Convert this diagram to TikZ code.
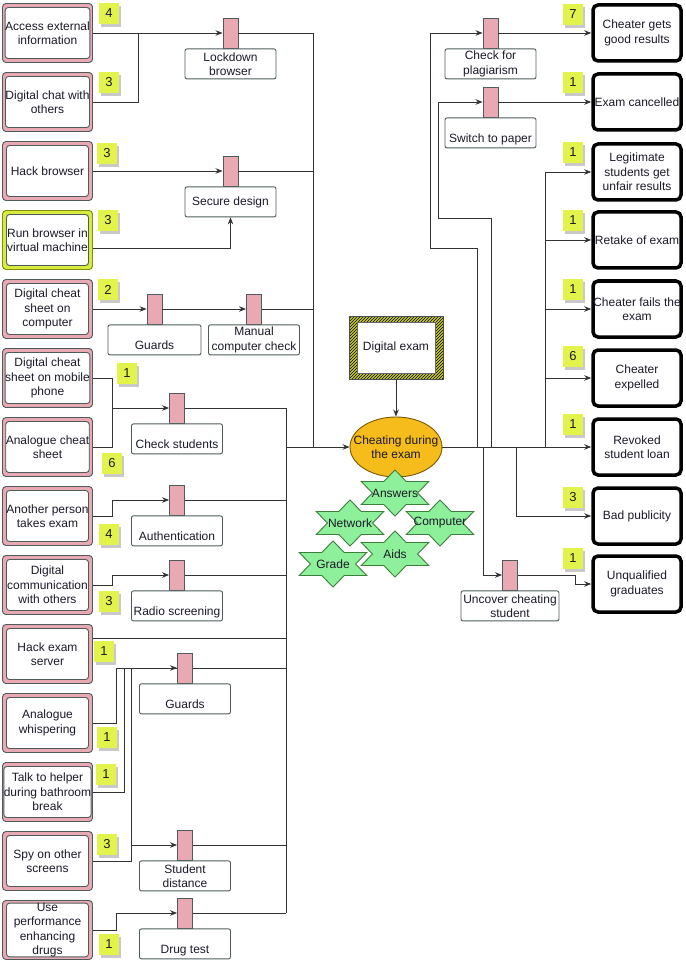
\documentclass[tikz,border=0pt]{standalone}
\usepackage{fontspec}
\setmainfont{Liberation Sans}
\usetikzlibrary{arrows.meta,shapes.geometric,patterns,shadows,calc}
\definecolor{pinkf}{HTML}{E9A9B2}
\definecolor{grayl}{HTML}{4F5B5B}
\definecolor{conn}{HTML}{333333}
\definecolor{badgef}{HTML}{E2F44C}
\definecolor{limef}{HTML}{D7EC3A}
\definecolor{limel}{HTML}{7F8F10}
\definecolor{ellf}{HTML}{F5BC1C}
\definecolor{elll}{HTML}{7A5A00}
\definecolor{starf}{HTML}{8FF09B}
\definecolor{starl}{HTML}{3B7F3B}
\definecolor{txt}{HTML}{1A1A2A}
\definecolor{hatchf}{HTML}{C8CC20}
\tikzset{
  base/.style={font=\fontsize{12}{14.3}\selectfont, text=txt, align=center, inner sep=0pt},
  tout/.style={rectangle, rounded corners=3.5pt, fill=pinkf, draw=grayl, line width=0.9pt, minimum width=90pt, minimum height=59pt, inner sep=0pt},
  tvm/.style={tout, fill=limef, draw=limel},
  tin/.style={base, rectangle, rounded corners=3pt, fill=white, draw=grayl, line width=0.9pt, minimum width=82pt, minimum height=51pt},
  pinkr/.style={rectangle, fill=pinkf, draw=grayl, line width=0.9pt, minimum width=15pt, minimum height=30pt, inner sep=0pt},
  clabel/.style={base, rectangle, rounded corners=2pt, fill=white, draw=grayl, line width=0.9pt, minimum width=91pt, minimum height=30pt},
  lowtext/.style={text height=20pt, text depth=0pt},
  outc/.style={base, rectangle, rounded corners=5pt, fill=white, draw=black, line width=3.5pt, minimum width=88pt, minimum height=56pt},
  badge/.style={base, rectangle, fill=badgef, minimum width=20pt, minimum height=21pt, font=\fontsize{13}{15}\selectfont,
    drop shadow={shadow xshift=2pt, shadow yshift=-3pt, opacity=0.35, fill=black!60}},
  hexst/.style={fill=starf, draw=starl, line width=0.9pt, line join=miter},
  conn/.style={draw=conn, line width=0.9pt},
  arr/.style={conn, -{Stealth[length=7pt,width=5.5pt]}},
}
\newcommand\threat[4][tout]{\node[#1] (#2) at (47.5,#3) {};\node[tin] (#2i) at (#2.center) {#4};}
\newcommand\ctrl[5][]{\node[pinkr] (#2) at (#3,#4) {};\node[clabel,#1,anchor=north] (#2l) at (#2.south) {#5};}
\newcommand\hexstar[3]{%
  \draw[hexst] (#2) +(90:39 and 23) -- +(60:22.5 and 13.3) -- +(30:39 and 23) -- +(0:22.5 and 13.3)
   -- +(-30:39 and 23) -- +(-60:22.5 and 13.3) -- +(-90:39 and 23) -- +(-120:22.5 and 13.3)
   -- +(-150:39 and 23) -- +(180:22.5 and 13.3) -- +(150:39 and 23) -- +(120:22.5 and 13.3) -- cycle;
  \node[base] (#1) at (#2) {#3};}
\begin{document}
\begin{tikzpicture}[x=1pt,y=-1pt]
\useasboundingbox (0,0) rectangle (685,965);
\fill[white] (0,0) rectangle (685,965);

% threats
\threat{t1}{33}{Access external\\information}
\threat{t2}{102}{Digital chat with\\others}
\threat{t3}{171}{Hack browser}
\threat[tvm]{t4}{240}{Run browser in\\virtual machine}
\threat{t5}{309}{Digital cheat\\sheet on\\computer}
\threat{t6}{378}{Digital cheat\\sheet on mobile\\phone}
\threat{t7}{447}{Analogue cheat\\sheet}
\threat{t8}{516}{Another person\\takes exam}
\threat{t9}{585}{Digital\\communication\\with others}
\threat{t10}{654}{Hack exam\\server}
\threat{t11}{723}{Analogue\\whispering}
\threat{t12}{792}{Talk to helper\\during bathroom\\break}
\threat{t13}{861}{Spy on other\\screens}
\threat{t14}{930}{Use\\performance\\enhancing\\drugs}

% controls
\ctrl{lock}{230.5}{33}{Lockdown\\browser}
\ctrl{sec}{230.5}{171}{Secure design}
\ctrl[lowtext,minimum width=93pt]{gd1}{154.5}{309}{Guards}
\ctrl{man}{254}{309}{Manual\\computer check}
\ctrl[lowtext]{cs}{177}{408}{Check students}
\ctrl[lowtext]{au}{177}{500}{Authentication}
\ctrl[lowtext]{rs}{177}{575}{Radio screening}
\ctrl[lowtext]{gd2}{185}{668}{Guards}
\ctrl{sd}{185}{845}{Student\\distance}
\ctrl[lowtext]{dt}{185}{913}{Drug test}
\ctrl{pl}{490.5}{33}{Check for\\plagiarism}
\ctrl[lowtext]{sp}{490.5}{102}{Switch to paper}
\ctrl[minimum width=98pt]{un}{510}{575}{Uncover cheating\\student}

% outcomes
\node[outc] (r1) at (637,33) {Cheater gets\\good results};
\node[outc] (r2) at (637,102) {Exam cancelled};
\node[outc] (r3) at (637,172) {Legitimate\\students get\\unfair results};
\node[outc] (r4) at (637,240) {Retake of exam};
\node[outc] (r5) at (637,309) {Cheater fails the\\exam};
\node[outc] (r6) at (637,378) {Cheater\\expelled};
\node[outc] (r7) at (637,447) {Revoked\\student loan};
\node[outc] (r8) at (637,516) {Bad publicity};
\node[outc] (r9) at (637,584) {Unqualified\\graduates};

% digital exam and central event
\node[rectangle, minimum width=94pt, minimum height=63pt, preaction={fill=hatchf}, pattern=north east lines, draw=black!70, line width=0.6pt] (dex) at (396,347.5) {};
\node[base, rectangle, fill=white, draw=black!60, line width=0.5pt, minimum width=78pt, minimum height=51pt] (dexi) at (dex.center) {Digital exam};
\node[ellipse, fill=ellf, draw=elll, line width=0.9pt, minimum width=92pt, minimum height=60pt, inner sep=0pt] (cheat) at (396,447) {};
\node[base] (cheatt) at (cheat.center) {Cheating during\\the exam};

% stars
\hexstar{sAns}{395,493}{Answers}
\hexstar{sNet}{350,523}{Network}
\hexstar{sCom}{440,523}{Computer}
\hexstar{sAid}{395,554}{Aids}
\hexstar{sGra}{333,564}{Grade}

% badges left
\node[badge] (b1) at (109,13.5) {4};
\node[badge] (b2) at (109,82.5) {3};
\node[badge] (b3) at (107,153.5) {3};
\node[badge] (b4) at (108,220.5) {3};
\node[badge] (b5) at (108,289.5) {2};
\node[badge] (b6) at (127,373.5) {1};
\node[badge] (b7) at (112,463.5) {6};
\node[badge] (b8) at (109,534.5) {4};
\node[badge] (b9) at (109,601.5) {3};
\node[badge] (b10) at (104,651.5) {1};
\node[badge] (b11) at (107,737.5) {1};
\node[badge] (b12) at (106,774.5) {1};
\node[badge] (b13) at (107,844.5) {3};
\node[badge] (b14) at (109,944.5) {1};
% badges right
\node[badge] (c1) at (573,14.5) {7};
\node[badge] (c2) at (573,82.5) {1};
\node[badge] (c3) at (573,152.5) {1};
\node[badge] (c4) at (573,220.5) {1};
\node[badge] (c5) at (573,289.5) {1};
\node[badge] (c6) at (573,356.5) {6};
\node[badge] (c7) at (573,424.5) {1};
\node[badge] (c8) at (573,497.5) {3};
\node[badge] (c9) at (573,558.5) {1};

% connectors left
\coordinate (j1) at (138,33);
\draw[arr] (t1.east) -- (lock.west);
\draw[conn] (t2.east) -| (j1);
\draw[arr] (t3.east) -- (sec.west);
\draw[arr] ([yshift=-8pt]t4.east) -| (secl.south);
\draw[arr] (t5.east) -- (gd1.west);
\draw[arr] (gd1.east) -- (man.west);
\coordinate (busA) at (313,447);
\draw[conn] (lock.east) -| (busA);
\draw[conn] (sec.east) -- (sec.east -| busA);
\draw[conn] (man.east) -- (man.east -| busA);
\coordinate (j2) at (112,408);
\draw[conn] (t6.east) -| (j2);
\draw[conn] (t7.east) -| (j2);
\draw[arr] (j2) -- (cs.west);
\coordinate (busB) at (286,913);
\draw[conn] (cs.east) -| (busB);
\draw[arr] (t8.east) -- ++(19,0) |- (au.west);
\draw[conn] (au.east) -- (au.east -| busB);
\draw[arr] (t9.east) -- ++(19,0) |- (rs.west);
\draw[conn] (rs.east) -- (rs.east -| busB);
\draw[conn] ([yshift=16pt]t10.east) -- ++(193,0);
\coordinate (j3) at (116,668);
\draw[conn] (t11.east) -| (j3);
\draw[arr] (j3) -- (gd2.west);
\draw[conn] (t12.east) -- ++(31,0) |- (gd2.west);
\draw[conn] (t13.east) -- ++(38,0) |- (gd2.west);
\draw[arr] (t13.east) -- ++(38,0) |- (sd.west);
\draw[conn] (gd2.east) -- (gd2.east -| busB);
\draw[conn] (sd.east) -- (sd.east -| busB);
\draw[arr] (t14.east) -- ++(23,0) |- (dt.west);
\draw[conn] (dt.east) -- (busB);
\coordinate (m0) at (286,447);
\draw[arr] (m0) -- (cheat.west);
\draw[arr] (dex.south) -- (cheat.north);

% connectors right
\draw[arr] (cheat.east) -- (r7.west);
\coordinate (pk1) at (477,447);
\coordinate (pk2) at (430,248);
\draw[arr] (pk1) |- (pk2) |- (pl.west);
\coordinate (sw1) at (491,447);
\coordinate (sw2) at (438,218);
\draw[arr] (sw1) |- (sw2) |- (sp.west);
\draw[arr] (pl.east) -- (r1.west);
\draw[arr] (sp.east) -- (r2.west);
\coordinate (rb) at (545,447);
\foreach \r in {r3,r4,r5,r6} \draw[arr] (rb) |- (\r.west);
\coordinate (bp) at (516,447);
\draw[arr] (bp) |- (r8.west);
\coordinate (uc) at (483,447);
\draw[arr] (uc) |- (un.west);
\draw[arr] (un.east) -- ++(57,0) |- (r9.west);
\end{tikzpicture}
\end{document}
